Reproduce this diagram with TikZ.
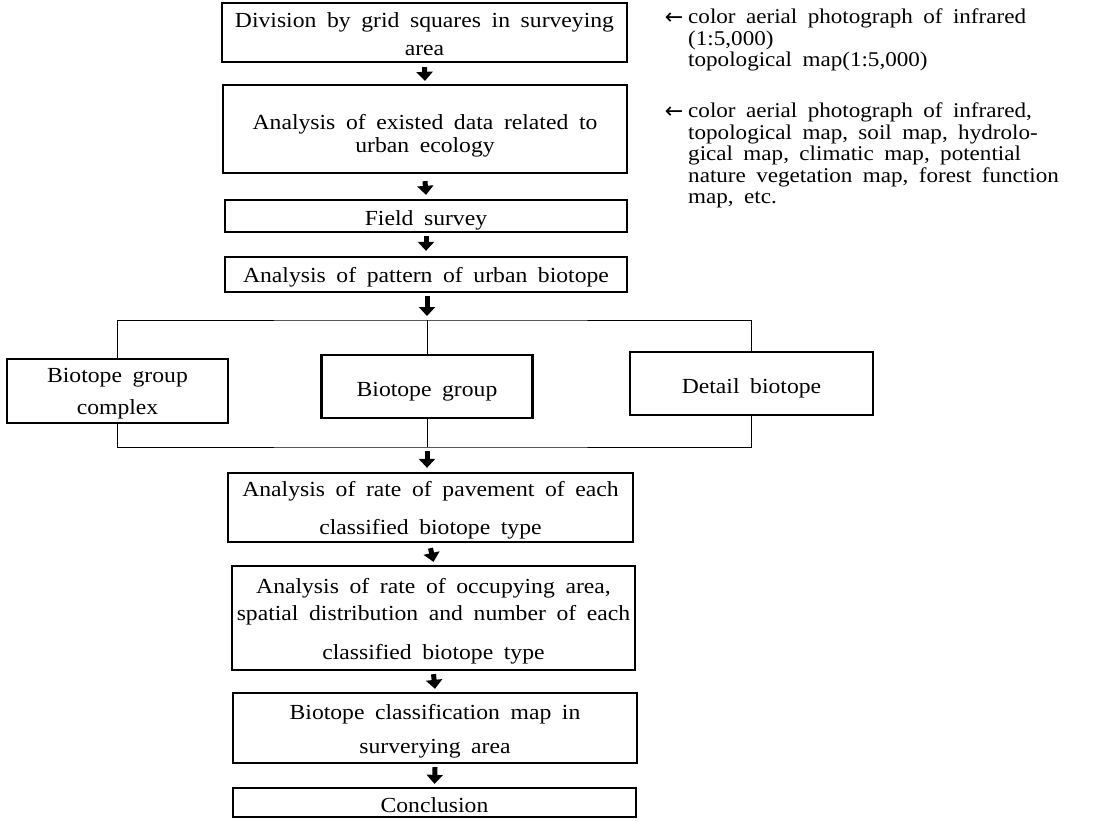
\documentclass[tikz,border=0pt]{standalone}
\usepackage{fontspec}
\setmainfont{Liberation Serif}[FakeStretch=1.1,WordSpace=1.8]
\newfontfamily\arrowfont{DejaVu Sans}
\usetikzlibrary{arrows.meta}
\newcommand\dn[1]{\rule{0pt}{#1}}
\begin{document}
\begin{tikzpicture}[x=1pt,y=-1pt,
  box/.style={draw,line width=2.3pt,inner sep=0pt,align=center,font=\fontsize{21.5}{23}\selectfont},
  link/.style={line width=1pt},
  bigarrow/.style={line width=5pt,-{Triangle[width=16pt,length=9pt]}},
  note/.style={anchor=north west,inner sep=0pt,align=left,font=\fontsize{21}{21.5}\selectfont},
  leftarrow/.style={inner sep=0pt,font=\arrowfont\fontsize{22}{24}\selectfont}]
\useasboundingbox (0,0) rectangle (1094,821);

% main column
\node[box,minimum width=405pt,minimum height=59pt] (b1) at (424.5,32.5) {\dn{18pt}Division by grid squares in surveying\\[5pt]area};
\node[box,minimum width=404pt,minimum height=88pt] (b2) at (425,129) {\dn{29pt}Analysis of existed data related to\\urban ecology};
\node[box,minimum width=402pt,minimum height=32pt] (b3) at (426,216) {\dn{24pt}Field survey};
\node[box,minimum width=402pt,minimum height=35pt] (b4) at (426,274.5) {\dn{21pt}Analysis of pattern of urban biotope};

% branches
\node[box,minimum width=221pt,minimum height=64pt] (L) at (117.5,391) {\dn{20pt}Biotope group\\[9pt]complex};
\node[box,minimum width=211pt,minimum height=63pt] (M) at (427,386.5) {\dn{25pt}Biotope group};
\node[box,minimum width=243pt,minimum height=63pt] (R) at (751.5,383.5) {\dn{25pt}Detail biotope};
\coordinate (tl) at (427,320);
\coordinate (bl) at (427,447);

\node[box,minimum width=405pt,minimum height=69pt] (b5) at (430.5,507.5) {\dn{20pt}Analysis of rate of pavement of each\\[15pt]classified biotope type};
\node[box,minimum width=403pt,minimum height=104pt] (b6) at (433.5,618) {\dn{21pt}Analysis of rate of occupying area,\\[4pt]spatial distribution and number of each\\[16pt]classified biotope type};
\node[box,minimum width=404pt,minimum height=70pt] (b7) at (435,728) {\dn{22pt}Biotope classification map in\\[11pt]surverying area};
\node[box,minimum width=403pt,minimum height=29pt] (b8) at (434.5,802.5) {\dn{21pt}Conclusion};

% arrows
\draw[bigarrow] ([yshift=-4pt]b1.south) -- ([yshift=3pt]b2.north);
\draw[bigarrow] ([yshift=-7pt]b2.south) -- ([yshift=4pt]b3.north);
\draw[bigarrow] ([yshift=-3pt]b3.south) -- ([yshift=5pt]b4.north);
\draw[bigarrow] ([yshift=-3pt]b4.south -| tl) -- ([yshift=4pt]tl);
\draw[bigarrow] ([yshift=-4pt]bl) -- ([yshift=4pt]bl |- b5.north);
\draw[bigarrow] ([yshift=-5pt]b5.south) -- ([yshift=3pt]b6.north);
\draw[bigarrow] ([yshift=-3pt]b6.south) -- ([yshift=3pt]b7.north);
\draw[bigarrow] ([yshift=-3pt]b7.south) -- ([yshift=3pt]b8.north);

% connector lines
\draw[link] (L.north) |- (tl) -| (R.north);
\draw[link] (tl) -- (M.north);
\draw[link] (L.south) |- (bl) -| (R.south);
\draw[link] (M.south) -- (bl);

% notes
\node[leftarrow] (a1) at (674,19) {←};
\node[note] (n1) at (688,9) {color aerial photograph of infrared\\(1:5,000)\\topological map(1:5,000)};
\node[leftarrow] (a2) at (674,113) {←};
\node[note] (n2) at (688,103) {color aerial photograph of infrared,\\topological map, soil map, hydrolo-\\gical map, climatic map, potential\\nature vegetation map, forest function\\map, etc.};
\end{tikzpicture}
\end{document}
